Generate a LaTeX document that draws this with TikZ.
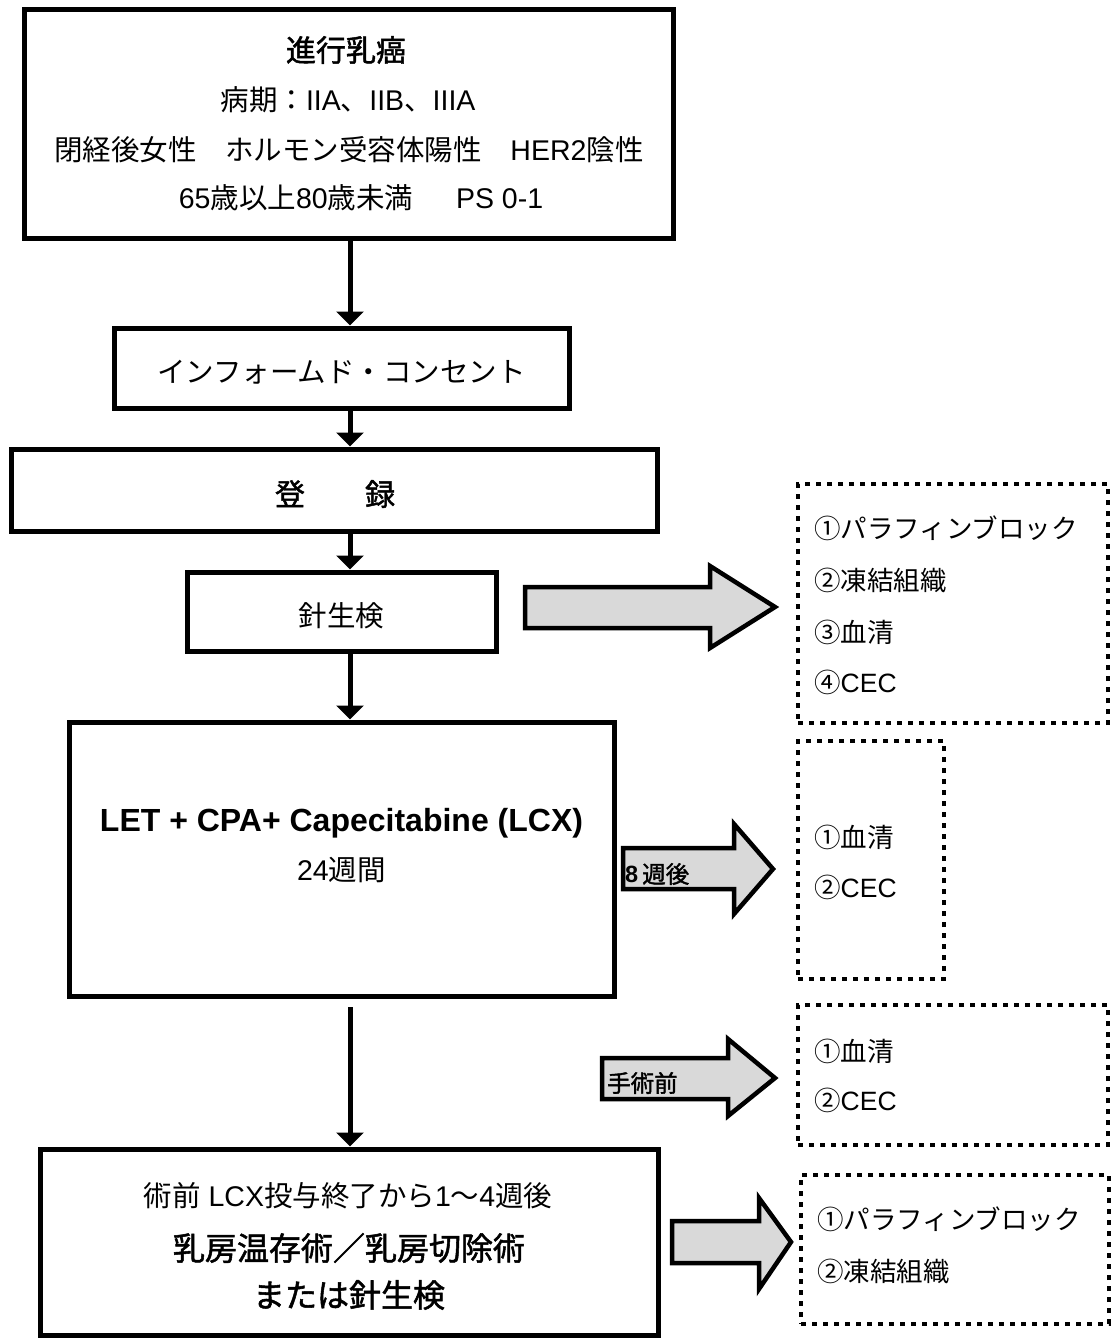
\documentclass[tikz,border=0pt]{standalone}
\usepackage{fontspec}
\setmainfont{Liberation Sans}
\newfontfamily\jp{Noto Sans CJK JP}
\newfontfamily\jpb{Noto Sans CJK JP}[FakeBold=1.6]
\usetikzlibrary{arrows.meta}
\tikzset{
  box/.style={draw, line width=5pt, inner sep=0pt},
  dotbox/.style={draw, line width=4pt, dash pattern=on 5pt off 6pt, inner sep=0pt},
  conn/.style={line width=5pt, -{Triangle[length=14pt,width=27pt]}},
  blk/.style={draw, line width=4.5pt, fill=black!15, miter limit=10},
  txt/.style={inner sep=0pt, font=\fontsize{28.5}{30}\selectfont},
  jtxt/.style={inner sep=0pt, font={\fontsize{28.5}{30}\selectfont\jp}},
  jbold/.style={inner sep=0pt, font={\fontsize{30}{31}\selectfont\jpb}},
  side/.style={inner sep=0pt, anchor=west, font={\fontsize{26.5}{28}\selectfont\jp}},
  lbl/.style={inner sep=0pt, anchor=west, font={\fontsize{23.5}{24}\selectfont\jpb}}
}
\begin{document}
\begin{tikzpicture}[x=1pt,y=-1pt]
\useasboundingbox (0,0) rectangle (1112,1338);
\coordinate (ax) at (350,0);
% main boxes
\node[box, minimum width=649pt, minimum height=228pt] (b1) at (348.5,124) {};
\node[box, minimum width=455pt, minimum height=80pt] (b2) at (341.5,368) {};
\node[box, minimum width=646pt, minimum height=82pt] (b3) at (334,490) {};
\node[box, minimum width=309pt, minimum height=79pt] (b4) at (341.5,611.5) {};
\node[box, minimum width=545pt, minimum height=274pt] (b5) at (341.5,859) {};
\node[box, minimum width=618pt, minimum height=186pt] (b6) at (349,1242) {};
% texts of box 1
\node[jbold] (t1a) at (346,50) {進行乳癌};
\node[txt] (t1b) at (348,100) {{\jp 病期：}IIA{\jp 、}IIB{\jp 、}IIIA};
\node[txt] (t1c) at (349,150) {{\jp 閉経後女性　ホルモン受容体陽性　}HER2{\jp 陰性}};
\node[txt] (t1d) at (361,198) {65{\jp 歳以上}80{\jp 歳未満}\hspace{1.5em}PS 0-1};
% other texts
\node[jtxt] (t2) at (341.5,372) {インフォームド・コンセント};
\node[jbold] (t3) at (335,494) {登　　録};
\node[jtxt] (t4) at (341.5,616) {針生検};
\node[inner sep=0pt, font={\fontsize{32}{34}\selectfont\bfseries}] (t5a) at (341.5,823) {LET + CPA+ Capecitabine (LCX)};
\node[txt] (t5b) at (341.5,870) {24{\jp 週間}};
\node[txt] (t6a) at (348,1196) {{\jp 術前} LCX{\jp 投与終了から}1{\jp 〜}4{\jp 週後}};
\node[inner sep=0pt, font={\fontsize{32}{34}\selectfont\jpb}] (t6b) at (349,1248) {乳房温存術／乳房切除術};
\node[inner sep=0pt, font={\fontsize{32}{34}\selectfont\jpb}] (t6c) at (349,1295) {または針生検};
% connectors
\draw[conn] (b1.south -| ax) -- (b2.north -| ax);
\draw[conn] (b2.south -| ax) -- (b3.north -| ax);
\draw[conn] (b3.south -| ax) -- (b4.north -| ax);
\draw[conn] (b4.south -| ax) -- (b5.north -| ax);
\coordinate (c5) at (350,1007);
\draw[conn] (c5) -- (b6.north -| ax);
% dotted boxes
\node[dotbox, minimum width=310pt, minimum height=239pt] (d1) at (953,603.5) {};
\node[dotbox, minimum width=146pt, minimum height=238pt] (d2) at (871,860) {};
\node[dotbox, minimum width=310pt, minimum height=140pt] (d3) at (953,1075) {};
\node[dotbox, minimum width=308pt, minimum height=149pt] (d4) at (955,1249.5) {};
\node[side] (s1a) at (814,528) {①パラフィンブロック};
\node[side] (s1b) at (814,580) {②凍結組織};
\node[side] (s1c) at (814,632) {③血清};
\node[side] (s1d) at (814,682) {④{\fontsize{26.5}{28}\rmfamily CEC}};
\node[side] (s2a) at (814,837) {①血清};
\node[side] (s2b) at (814,887) {②{\fontsize{26.5}{28}\rmfamily CEC}};
\node[side] (s3a) at (814,1051) {①血清};
\node[side] (s3b) at (814,1100) {②{\fontsize{26.5}{28}\rmfamily CEC}};
\node[side] (s4a) at (817,1219) {①パラフィンブロック};
\node[side] (s4b) at (817,1271) {②凍結組織};
% block arrows
\draw[blk] (525,587) -- (710,587) -- (710,566) -- (775,607) -- (710,648) -- (710,628) -- (525,628) -- cycle;
\draw[blk] (623,848) -- (734,848) -- (734,824) -- (773,869) -- (734,914) -- (734,889) -- (623,889) -- cycle;
\draw[blk] (602,1058) -- (728,1058) -- (728,1039) -- (775,1078) -- (728,1116) -- (728,1099) -- (602,1099) -- cycle;
\draw[blk] (672,1221) -- (759,1221) -- (759,1198) -- (791,1242) -- (759,1289) -- (759,1263) -- (672,1263) -- cycle;
\node[lbl] (l1) at (625,874) {{\bfseries\rmfamily 8}\hspace{4pt}週後};
\node[lbl] (l2) at (607,1083) {手術前};
\end{tikzpicture}
\end{document}
